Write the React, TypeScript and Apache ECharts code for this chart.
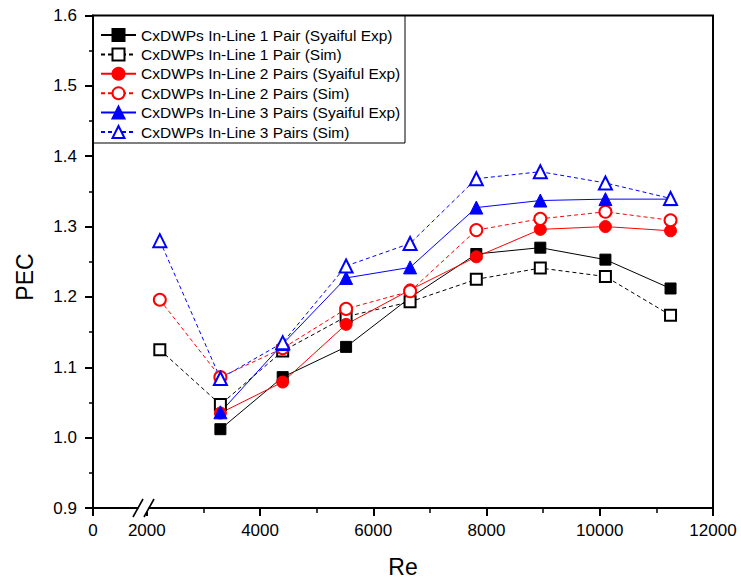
import React, { useEffect, useRef } from "react";
import * as echarts from "echarts";

// Reynolds numbers
const reExp = [3300, 4400, 5520, 6650, 7820, 8950, 10100, 11250];
const reSim = [2230, 3300, 4400, 5520, 6650, 7820, 8950, 10100, 11250];

// PEC values
const pair1Exp = [1.012, 1.086, 1.129, 1.199, 1.261, 1.27, 1.253, 1.212];
const pair1Sim = [1.125, 1.047, 1.123, 1.172, 1.193, 1.225, 1.241, 1.229, 1.174];
const pair2Exp = [1.035, 1.079, 1.161, 1.21, 1.257, 1.296, 1.3, 1.294];
const pair2Sim = [1.196, 1.086, 1.127, 1.183, 1.208, 1.295, 1.311, 1.321, 1.309];
const pair3Exp = [1.036, 1.133, 1.227, 1.242, 1.327, 1.337, 1.339, 1.339];
const pair3Sim = [1.28, 1.084, 1.135, 1.244, 1.276, 1.368, 1.378, 1.362, 1.34];

const seriesNames = [
  "CxDWPs In-Line 1 Pair (Syaiful Exp)",
  "CxDWPs In-Line 1 Pair (Sim)",
  "CxDWPs In-Line 2 Pairs (Syaiful Exp)",
  "CxDWPs In-Line 2 Pairs (Sim)",
  "CxDWPs In-Line 3 Pairs (Syaiful Exp)",
  "CxDWPs In-Line 3 Pairs (Sim)",
];

// axis break: "0" shown at the left end of the compressed range
const xMin = 1050;
const xMax = 12000;
const xMajorTicks = [1050, 2000, 4000, 6000, 8000, 10000, 12000];
const xMinorTicks = [3000, 5000, 7000, 9000, 11000];

const FONT = "'Liberation Sans', Arial, sans-serif";

const zip = (xs: number[], ys: number[]) => xs.map((x, i) => [x, ys[i]]);

export default function App() {
  const ref = useRef<HTMLDivElement>(null);
  useEffect(() => {
    if (!ref.current) return;
    const chart = echarts.init(ref.current, null, { renderer: "svg" });

    const mk = (
      name: string,
      xs: number[],
      ys: number[],
      color: string,
      symbol: string,
      size: number,
      dashed: boolean
    ) => ({
      name,
      type: "line",
      data: zip(xs, ys),
      symbol,
      symbolSize: size,
      showAllSymbol: true,
      lineStyle: { color, width: 1, type: dashed ? [4, 3] : "solid" },
      itemStyle: { color, borderColor: color, borderWidth: 1 },
      emphasis: { disabled: true },
    });

    const option: any = {
      animation: false,
      backgroundColor: "#fff",
      textStyle: { fontFamily: FONT },
      grid: {
        left: 93,
        right: 28,
        top: 15.5,
        bottom: 75,
        show: true,
        borderColor: "#000",
        borderWidth: 2,
        backgroundColor: "transparent",
      },
      legend: {
        left: 100,
        top: 27,
        orient: "vertical",
        padding: 0,
        itemWidth: 35,
        itemHeight: 15,
        itemGap: 3.4,
        textStyle: { fontSize: 15.5, color: "#000", fontFamily: FONT },
        data: seriesNames,
      },
      xAxis: [
        {
          type: "value",
          min: xMin,
          max: xMax,
          name: "Re",
          nameLocation: "middle",
          nameGap: 47,
          nameTextStyle: { fontSize: 23, color: "#000", fontFamily: FONT },
          axisLine: { show: true, lineStyle: { color: "#000", width: 2 } },
          axisTick: {
            show: true,
            customValues: xMajorTicks,
            length: 8,
            lineStyle: { color: "#000", width: 2 },
          },
          axisLabel: {
            customValues: xMajorTicks,
            fontSize: 17,
            color: "#000",
            margin: 14,
            fontFamily: FONT,
            formatter: (v: number) => (v === xMin ? "0" : String(v)),
          },
          splitLine: { show: false },
        },
        {
          type: "value",
          min: xMin,
          max: xMax,
          position: "bottom",
          axisLine: { show: false },
          axisTick: {
            show: true,
            customValues: xMinorTicks,
            length: 5,
            lineStyle: { color: "#000", width: 1.5 },
          },
          axisLabel: { show: false },
          splitLine: { show: false },
        },
      ],
      yAxis: {
        type: "value",
        min: 0.9,
        max: 1.6,
        interval: 0.1,
        axisLine: { show: true, lineStyle: { color: "#000", width: 2 } },
        axisTick: { show: true, length: 8, lineStyle: { color: "#000", width: 2 } },
        minorTick: { show: true, splitNumber: 2, length: 4, lineStyle: { color: "#000", width: 1.5 } },
        axisLabel: {
          fontSize: 17,
          color: "#000",
          margin: 16,
          fontFamily: FONT,
          formatter: (v: number) => v.toFixed(1),
        },
        splitLine: { show: false },
        minorSplitLine: { show: false },
      },
      graphic: [
        {
          type: "rect",
          shape: { x: 93, y: 15.5, width: 312, height: 127.5 },
          style: { fill: "none", stroke: "#000", lineWidth: 1 },
          z: 1,
        },
        {
          type: "rect",
          shape: { x: 138.5, y: 504, width: 10, height: 8 },
          style: { fill: "#fff" },
          z: 50,
        },
        {
          type: "line",
          shape: { x1: 133, y1: 517, x2: 143, y2: 499 },
          style: { stroke: "#000", lineWidth: 1.6 },
          z: 51,
        },
        {
          type: "line",
          shape: { x1: 144, y1: 517, x2: 154, y2: 499 },
          style: { stroke: "#000", lineWidth: 1.6 },
          z: 51,
        },
        {
          type: "text",
          x: 25,
          y: 277,
          rotation: Math.PI / 2,
          style: {
            text: "PEC",
            fontSize: 23,
            fontFamily: FONT,
            fill: "#000",
            align: "center",
            verticalAlign: "middle",
          },
        },
      ],
      series: [
        mk(seriesNames[0], reExp, pair1Exp, "#000000", "rect", 11, false),
        mk(seriesNames[1], reSim, pair1Sim, "#000000", "emptyRect", 11, true),
        mk(seriesNames[2], reExp, pair2Exp, "#ff0000", "circle", 12, false),
        mk(seriesNames[3], reSim, pair2Sim, "#ff0000", "emptyCircle", 12, true),
        mk(seriesNames[4], reExp, pair3Exp, "#0000ff", "triangle", 13, false),
        mk(seriesNames[5], reSim, pair3Sim, "#0000ff", "emptyTriangle", 13, true),
      ],
    };
    chart.setOption(option);
    return () => chart.dispose();
  }, []);

  return (
    <div
      ref={ref}
      style={{ position: "fixed", left: 0, top: 0, width: 741, height: 583, background: "#fff" }}
    />
  );
}
